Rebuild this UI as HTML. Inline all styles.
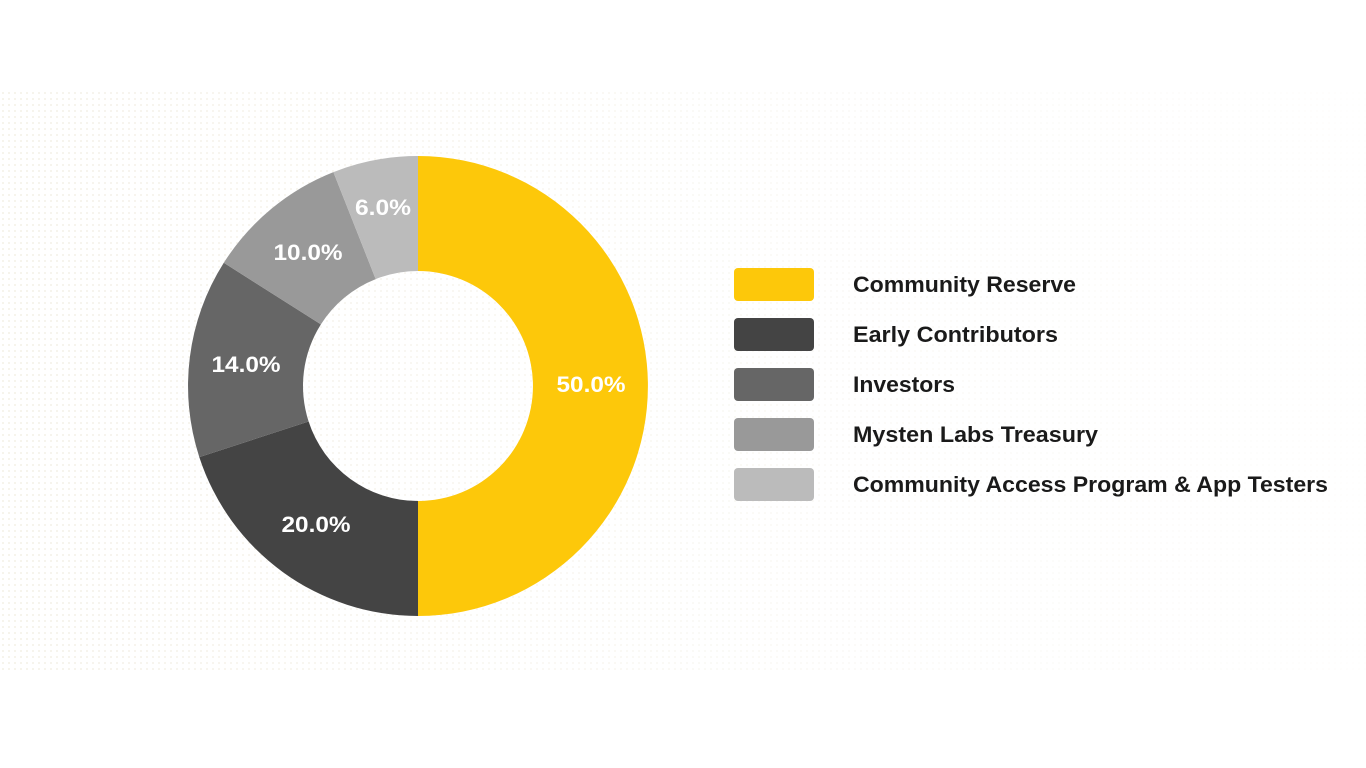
<!DOCTYPE html>
<html><head><style>
html,body{margin:0;padding:0;background:#fff;}
svg{display:block;}
</style></head><body>
<svg width="1366" height="768" viewBox="0 0 1366 768" xmlns="http://www.w3.org/2000/svg">
<defs>
<pattern id="dots" width="6" height="6" patternUnits="userSpaceOnUse"><circle cx="3" cy="3" r="1" fill="#f3f0e6"/></pattern>
<linearGradient id="fade" x1="0" y1="0" x2="1" y2="0"><stop offset="0" stop-color="#fff" stop-opacity="0"/><stop offset="0.6" stop-color="#fff" stop-opacity="0.6"/><stop offset="1" stop-color="#fff" stop-opacity="0.9"/></linearGradient>
</defs>
<rect x="0" y="92" width="1366" height="580" fill="url(#dots)"/>
<rect x="0" y="92" width="1366" height="580" fill="url(#fade)"/>
<g transform="translate(418,386)">
<path d="M0,-230 A230,230 0 0 1 0,230 L0,115 A115,115 0 0 0 0,-115 Z" fill="#FDC80A"/>
<path d="M0,230 A230,230 0 0 1 -218.7,71.1 L-109.4,35.5 A115,115 0 0 0 0,115 Z" fill="#444444"/>
<path d="M-218.7,71.1 A230,230 0 0 1 -194.2,-123.2 L-97.1,-61.6 A115,115 0 0 0 -109.4,35.5 Z" fill="#666666"/>
<path d="M-194.2,-123.2 A230,230 0 0 1 -84.6,-213.9 L-42.3,-106.9 A115,115 0 0 0 -97.1,-61.6 Z" fill="#999999"/>
<path d="M-84.6,-213.9 A230,230 0 0 1 0,-230 L0,-115 A115,115 0 0 0 -42.3,-106.9 Z" fill="#BBBBBB"/>
</g>
<g font-family="Liberation Sans, sans-serif" font-weight="bold" font-size="22" fill="#fff" text-anchor="middle">
<text x="591" y="392" textLength="69" lengthAdjust="spacingAndGlyphs">50.0%</text>
<text x="316" y="532" textLength="69" lengthAdjust="spacingAndGlyphs">20.0%</text>
<text x="246" y="372" textLength="69" lengthAdjust="spacingAndGlyphs">14.0%</text>
<text x="308" y="260" textLength="69" lengthAdjust="spacingAndGlyphs">10.0%</text>
<text x="383" y="215" textLength="56" lengthAdjust="spacingAndGlyphs">6.0%</text>
</g>
<g>
<rect x="734" y="268" width="80" height="33" rx="4" fill="#FDC80A"/>
<rect x="734" y="318" width="80" height="33" rx="4" fill="#444444"/>
<rect x="734" y="368" width="80" height="33" rx="4" fill="#666666"/>
<rect x="734" y="418" width="80" height="33" rx="4" fill="#999999"/>
<rect x="734" y="468" width="80" height="33" rx="4" fill="#BBBBBB"/>
</g>
<g font-family="Liberation Sans, sans-serif" font-weight="bold" font-size="22" fill="#1a1a1a">
<text x="853" y="292" textLength="223" lengthAdjust="spacingAndGlyphs">Community Reserve</text>
<text x="853" y="342" textLength="205" lengthAdjust="spacingAndGlyphs">Early Contributors</text>
<text x="853" y="392" textLength="102" lengthAdjust="spacingAndGlyphs">Investors</text>
<text x="853" y="442" textLength="245" lengthAdjust="spacingAndGlyphs">Mysten Labs Treasury</text>
<text x="853" y="492" textLength="475" lengthAdjust="spacingAndGlyphs">Community Access Program &amp; App Testers</text>
</g>
</svg>
</body></html>
